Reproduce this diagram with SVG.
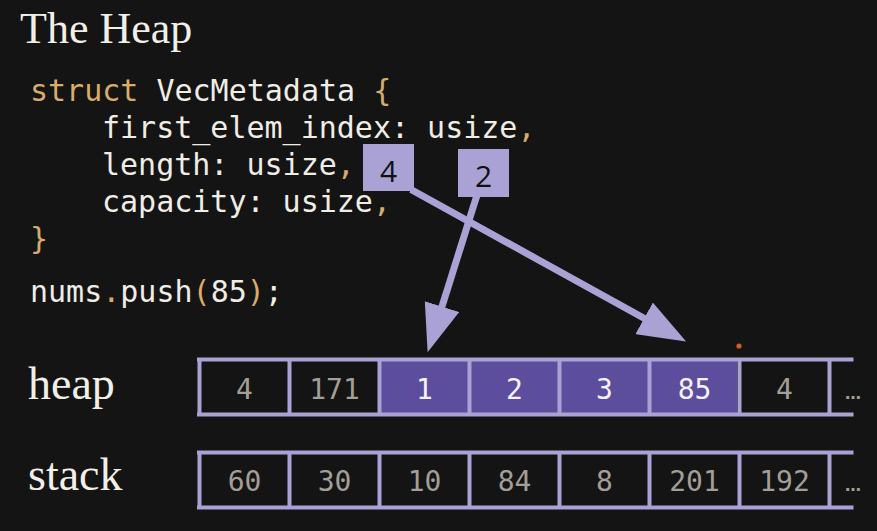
<svg xmlns="http://www.w3.org/2000/svg" width="877" height="531" viewBox="0 0 877 531">
<style>
.title{font-family:"Liberation Serif",serif;font-size:44px;fill:#f1efe8}
.lbl{font-family:"Liberation Serif",serif;font-size:46px;fill:#f1efe8}
.code{font-family:"DejaVu Sans Mono",monospace;font-size:30px;fill:#f0ede6}
.kw{fill:#d6ad6a}
.frame{stroke:#aaa2d4;stroke-width:4;fill:none}
.hl{fill:#5c4d9d}
.num{font-family:"DejaVu Sans Mono",monospace;font-size:28px;fill:#a19f97;text-anchor:middle}
.num.w{fill:#f4f2f8}
.dots{font-family:"DejaVu Sans",sans-serif;font-size:16px;font-weight:bold;fill:#a19f97}
.tag{fill:#aaa2d4}
.tagt{font-family:"Open Sans",sans-serif;font-size:30px;fill:#111111;text-anchor:middle}
.conn{stroke:#aaa2d4;stroke-width:7;fill:none}
</style>
<defs>
<marker id="ah" markerUnits="userSpaceOnUse" viewBox="0 0 48 36" markerWidth="48" markerHeight="36" refX="1" refY="18" orient="auto">
<path d="M0,0 L48,18 L0,36 z" fill="#aaa2d4"/>
</marker>
</defs>
<rect x="0" y="0" width="877" height="531" fill="#141414"/>
<text class="title" x="20" y="43">The Heap</text>
<g id="code">
<text class="code" x="30" y="101"><tspan class="kw">struct</tspan> VecMetadata <tspan class="kw">{</tspan></text>
<text class="code" x="102" y="138">first_elem_index: usize<tspan class="kw">,</tspan></text>
<text class="code" x="102" y="175">length: usize<tspan class="kw">,</tspan></text>
<text class="code" x="102" y="212">capacity: usize<tspan class="kw">,</tspan></text>
<text class="code" x="30" y="249"><tspan class="kw">}</tspan></text>
<text class="code" x="30" y="302">nums<tspan class="kw">.</tspan>push<tspan class="kw">(</tspan>85<tspan class="kw">)</tspan>;</text>
</g>
<g id="heap">
<text class="lbl" x="28" y="399">heap</text>
<rect class="hl" x="381" y="361" width="356" height="52"/>
<path class="frame" d="M197,359.5 H853.5 M197,414.5 H853.5 M199.5,357.5 V416.5 M289.5,357.5 V416.5 M379.5,357.5 V416.5 M469.5,357.5 V416.5 M559.5,357.5 V416.5 M649.5,357.5 V416.5 M739.5,357.5 V416.5 M829.5,357.5 V416.5"/>
<text class="num" x="244.5" y="399">4</text>
<text class="num" x="334.5" y="399">171</text>
<text class="num w" x="424.5" y="399">1</text>
<text class="num w" x="514.5" y="399">2</text>
<text class="num w" x="604.5" y="399">3</text>
<text class="num w" x="694.5" y="399">85</text>
<text class="num" x="784.5" y="399">4</text>
<text class="dots" x="845" y="399">…</text>
<circle cx="739" cy="346" r="2.6" fill="#d65a30"/>
</g>
<g id="stack">
<text class="lbl" x="28" y="490">stack</text>
<path class="frame" d="M197,452.5 H853.5 M197,507.5 H853.5 M199.5,450.5 V509.5 M289.5,450.5 V509.5 M379.5,450.5 V509.5 M469.5,450.5 V509.5 M559.5,450.5 V509.5 M649.5,450.5 V509.5 M739.5,450.5 V509.5 M829.5,450.5 V509.5"/>
<text class="num" x="244.5" y="491">60</text>
<text class="num" x="334.5" y="491">30</text>
<text class="num" x="424.5" y="491">10</text>
<text class="num" x="514.5" y="491">84</text>
<text class="num" x="604.5" y="491">8</text>
<text class="num" x="694.5" y="491">201</text>
<text class="num" x="784.5" y="491">192</text>
<text class="dots" x="845" y="491">…</text>
</g>
<g id="connectors">
<line class="conn" x1="411" y1="189.5" x2="645" y2="318.8" marker-end="url(#ah)"/>
<line class="conn" x1="476.7" y1="196" x2="441.7" y2="307.5" marker-end="url(#ah)"/>
</g>
<g id="tag-length">
<rect class="tag" x="363" y="144" width="51" height="47"/>
<text class="tagt" x="388.5" y="182">4</text>
</g>
<g id="tag-first">
<rect class="tag" x="458" y="149" width="51" height="48"/>
<text class="tagt" x="483.5" y="187">2</text>
</g>
</svg>
